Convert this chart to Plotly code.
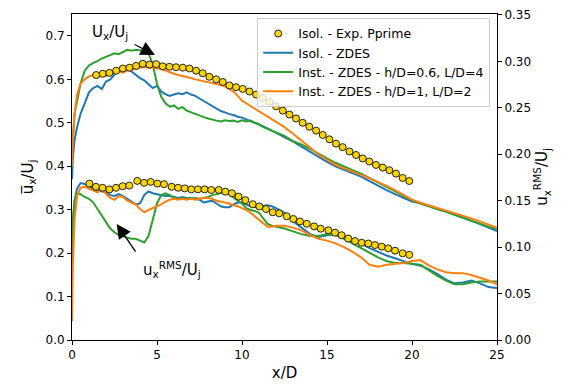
import plotly.graph_objects as go

# ---------------- data ----------------
x_sim = [0, 0.05, 0.15, 0.3, 0.5, 0.75, 1.0, 1.25, 1.5, 1.75, 2.0, 2.25, 2.5, 2.75,
         3.0, 3.25, 3.5, 3.75, 4.0, 4.25, 4.5, 4.75, 5.0, 5.25, 5.5, 5.75, 6.0, 6.25,
         6.5, 6.75, 7.0, 7.25, 7.5, 7.75, 8.0, 8.25, 8.5, 8.75, 9.0, 9.25, 9.5, 9.75,
         10.0, 10.25, 10.5, 10.75, 11.0, 11.25, 11.5, 11.75, 12.0, 12.5, 13, 13.5, 14,
         14.5, 15, 15.5, 16, 16.5, 17, 17.5, 18, 18.5, 19, 19.5, 20, 20.5, 21, 21.5, 22,
         22.5, 23, 23.5, 24, 24.5, 25]

# mean velocity (left axis)
mean_isol = [0.37, 0.42, 0.46, 0.49, 0.52, 0.545, 0.57, 0.58, 0.585, 0.578, 0.595, 0.60,
             0.61, 0.622, 0.62, 0.625, 0.618, 0.61, 0.603, 0.598, 0.59, 0.58, 0.585, 0.572,
             0.566, 0.562, 0.565, 0.568, 0.566, 0.570, 0.565, 0.562, 0.556, 0.55, 0.544,
             0.538, 0.533, 0.527, 0.524, 0.52, 0.518, 0.514, 0.512, 0.508, 0.505, 0.50,
             0.497, 0.492, 0.487, 0.482, 0.478, 0.468, 0.457, 0.445, 0.433, 0.421, 0.41,
             0.40, 0.392, 0.384, 0.376, 0.366, 0.355, 0.345, 0.336, 0.327, 0.319, 0.315,
             0.309, 0.303, 0.296, 0.289, 0.282, 0.275, 0.267, 0.259, 0.251]
mean_h06 = [0.43, 0.47, 0.52, 0.55, 0.59, 0.62, 0.632, 0.638, 0.642, 0.648, 0.652, 0.655,
            0.660, 0.658, 0.664, 0.668, 0.666, 0.668, 0.667, 0.664, 0.66, 0.635, 0.59, 0.56,
            0.545, 0.537, 0.54, 0.532, 0.536, 0.528, 0.524, 0.521, 0.516, 0.513, 0.51, 0.507,
            0.505, 0.503, 0.506, 0.504, 0.505, 0.502, 0.506, 0.503, 0.505, 0.50, 0.497, 0.49,
            0.486, 0.482, 0.478, 0.47, 0.458, 0.45, 0.44, 0.428, 0.418, 0.408, 0.399, 0.391,
            0.383, 0.373, 0.362, 0.352, 0.342, 0.332, 0.322, 0.314, 0.307, 0.301, 0.295,
            0.288, 0.281, 0.274, 0.267, 0.261, 0.255]
mean_h1 = [0.40, 0.46, 0.52, 0.565, 0.59, 0.60, 0.607, 0.61, 0.603, 0.61, 0.608, 0.612,
           0.615, 0.618, 0.616, 0.62, 0.622, 0.625, 0.627, 0.629, 0.626, 0.628, 0.625, 0.624,
           0.62, 0.616, 0.613, 0.61, 0.608, 0.606, 0.603, 0.60, 0.598, 0.596, 0.594, 0.592,
           0.589, 0.587, 0.584, 0.578, 0.572, 0.562, 0.551, 0.545, 0.539, 0.533, 0.527,
           0.521, 0.515, 0.508, 0.502, 0.49, 0.475, 0.458, 0.443, 0.427, 0.414, 0.403, 0.395,
           0.388, 0.38, 0.372, 0.364, 0.355, 0.345, 0.334, 0.323, 0.316, 0.31, 0.305, 0.299,
           0.293, 0.287, 0.28, 0.273, 0.265, 0.258]

# RMS velocity (right axis)
rms_isol = [0.08, 0.12, 0.15, 0.163, 0.169, 0.168, 0.166, 0.162, 0.161, 0.16, 0.159, 0.156,
            0.155, 0.157, 0.155, 0.152, 0.149, 0.146, 0.147, 0.156, 0.16, 0.158, 0.157, 0.156,
            0.155, 0.155, 0.154, 0.153, 0.154, 0.153, 0.153, 0.152, 0.151, 0.148, 0.149,
            0.150, 0.147, 0.144, 0.143, 0.143, 0.146, 0.148, 0.148, 0.146, 0.144, 0.143,
            0.144, 0.1445, 0.145, 0.144, 0.142, 0.137, 0.128, 0.121, 0.114, 0.111, 0.113,
            0.1145, 0.112, 0.108, 0.104, 0.099, 0.095, 0.091, 0.088, 0.085, 0.082, 0.08,
            0.076, 0.071, 0.065, 0.061, 0.062, 0.064, 0.061, 0.057, 0.056]
rms_h06 = [0.10, 0.13, 0.15, 0.158, 0.157, 0.154, 0.152, 0.148, 0.141, 0.134, 0.126, 0.12,
           0.116, 0.113, 0.112, 0.11, 0.109, 0.109, 0.107, 0.105, 0.112, 0.13, 0.147, 0.156,
           0.158, 0.156, 0.153, 0.152, 0.152, 0.153, 0.152, 0.153, 0.152, 0.153, 0.154,
           0.156, 0.157, 0.158, 0.159, 0.157, 0.153, 0.15, 0.147, 0.142, 0.14, 0.139, 0.137,
           0.131, 0.125, 0.123, 0.122, 0.12, 0.117, 0.114, 0.112, 0.112, 0.114, 0.113,
           0.109, 0.104, 0.099, 0.094, 0.089, 0.085, 0.083, 0.083, 0.082, 0.081, 0.075,
           0.069, 0.064, 0.06, 0.06, 0.062, 0.063, 0.063, 0.063]
rms_h1 = [0.02, 0.08, 0.13, 0.155, 0.164, 0.165, 0.163, 0.161, 0.159, 0.162, 0.157, 0.153,
          0.151, 0.155, 0.154, 0.15, 0.148, 0.146, 0.141, 0.1375, 0.14, 0.142, 0.1445, 0.146,
          0.149, 0.151, 0.152, 0.151, 0.152, 0.151, 0.152, 0.151, 0.152, 0.153, 0.153,
          0.152, 0.15, 0.149, 0.148, 0.147, 0.145, 0.144, 0.142, 0.14, 0.137, 0.133, 0.13,
          0.126, 0.122, 0.122, 0.123, 0.123, 0.121, 0.118, 0.113, 0.109, 0.107, 0.104, 0.1,
          0.095, 0.089, 0.081, 0.079, 0.081, 0.082, 0.083, 0.085, 0.086, 0.08, 0.076, 0.073,
          0.072, 0.072, 0.07, 0.067, 0.064, 0.06]

# experiments
x_exp_mean = [1.42, 1.81, 2.20, 2.60, 2.99, 3.38, 3.77, 4.16, 4.56, 4.95, 5.34, 5.73, 6.12,
              6.52, 6.91, 7.30, 7.69, 8.08, 8.48, 8.87, 9.26, 9.65, 10.04, 10.44, 10.83,
              11.22, 11.61, 12.00, 12.40, 12.79, 13.18, 13.57, 13.96, 14.36, 14.75, 15.14,
              15.53, 15.92, 16.32, 16.71, 17.10, 17.49, 17.88, 18.28, 18.67, 19.06, 19.45,
              19.84]
exp_mean = [0.610, 0.613, 0.615, 0.620, 0.625, 0.627, 0.631, 0.636, 0.634, 0.635, 0.630,
            0.629, 0.628, 0.627, 0.625, 0.620, 0.614, 0.606, 0.600, 0.594, 0.586, 0.582,
            0.578, 0.572, 0.565, 0.557, 0.548, 0.538, 0.528, 0.519, 0.510, 0.500, 0.491,
            0.482, 0.472, 0.462, 0.452, 0.444, 0.434, 0.426, 0.418, 0.411, 0.403, 0.397,
            0.391, 0.383, 0.373, 0.366]
x_exp_rms = [1.02, 1.41, 1.80, 2.20, 2.59, 2.98, 3.37, 3.84, 4.24, 4.63, 5.02, 5.41, 5.86,
             6.24, 6.63, 7.02, 7.41, 7.80, 8.19, 8.63, 9.02, 9.41, 9.80, 10.20, 10.63,
             11.02, 11.41, 11.81, 12.19, 12.63, 13.02, 13.41, 13.81, 14.24, 14.63, 15.08,
             15.47, 15.86, 16.25, 16.65, 17.04, 17.43, 17.82, 18.22, 18.60, 19.00, 19.45,
             19.84]
exp_rms = [0.1684, 0.1649, 0.1639, 0.1621, 0.1639, 0.1656, 0.1663, 0.1713, 0.1692, 0.1702,
           0.1684, 0.1678, 0.1650, 0.1639, 0.1632, 0.1622, 0.1622, 0.1622, 0.1615, 0.1615,
           0.1597, 0.1580, 0.1544, 0.1506, 0.1462, 0.1438, 0.1410, 0.1375, 0.1364, 0.1332,
           0.1303, 0.1276, 0.1251, 0.1223, 0.1198, 0.1181, 0.1156, 0.1128, 0.1092, 0.1065,
           0.1047, 0.1039, 0.1022, 0.1005, 0.0987, 0.0962, 0.0934, 0.0917]

names = ["Isol. - Exp. Pprime", "Isol. - ZDES", "Inst. - ZDES - h/D=0.6, L/D=4",
         "Inst. - ZDES - h/D=1, L/D=2"]

BLUE, GREEN, ORANGE = "#1f77b4", "#2ca02c", "#ff7f0e"
FONT = "DejaVu Sans"

fig = go.Figure()

sim = [(mean_isol, rms_isol, BLUE, names[1], 2),
       (mean_h06, rms_h06, GREEN, names[2], 3),
       (mean_h1, rms_h1, ORANGE, names[3], 4)]
for mean, rms, col, nm, rank in sim:
    fig.add_trace(go.Scatter(x=x_sim, y=mean, mode="lines", line=dict(color=col, width=2),
                             name=nm, legendrank=rank, yaxis="y"))
    fig.add_trace(go.Scatter(x=x_sim, y=rms, mode="lines", line=dict(color=col, width=2),
                             name=nm, showlegend=False, yaxis="y2"))

mk = dict(color="#FFD700", size=7, line=dict(color="#222222", width=1))
fig.add_trace(go.Scatter(x=x_exp_mean, y=exp_mean, mode="markers", marker=mk,
                         name=names[0], legendrank=1, yaxis="y"))
fig.add_trace(go.Scatter(x=x_exp_rms, y=exp_rms, mode="markers", marker=mk,
                         name=names[0], showlegend=False, yaxis="y2"))

axfont = dict(family=FONT, size=12, color="black")
fig.update_layout(
    width=569, height=389,
    margin=dict(l=72, r=72, t=8, b=49),
    paper_bgcolor="white", plot_bgcolor="white",
    font=dict(family=FONT, color="black"),
    xaxis=dict(range=[0, 25], tickvals=[0, 5, 10, 15, 20, 25], showgrid=False,
               zeroline=False, showline=True, linecolor="black", linewidth=1, mirror=True,
               ticks="outside", ticklen=4, tickcolor="black", tickfont=axfont,
               title=dict(text="x/D", font=dict(family=FONT, size=15), standoff=6)),
    yaxis=dict(range=[0, 0.7505], tickvals=[0, 0.1, 0.2, 0.3, 0.4, 0.5, 0.6, 0.7],
               tickformat=".1f", showgrid=False, zeroline=False, showline=True,
               linecolor="black", linewidth=1, ticks="outside", ticklen=4,
               tickcolor="black", tickfont=axfont,
               title=dict(text="u\u0305<sub>x</sub>/U<sub>j</sub>",
                          font=dict(family=FONT, size=15), standoff=8)),
    yaxis2=dict(range=[0, 0.351], overlaying="y", side="right",
                tickvals=[0, 0.05, 0.10, 0.15, 0.20, 0.25, 0.30, 0.35], tickformat=".2f",
                showgrid=False, zeroline=False, showline=True, linecolor="black",
                linewidth=1, ticks="outside", ticklen=4, tickcolor="black", tickfont=axfont,
                title=dict(text="u<sub>x</sub><sup>RMS</sup>/U<sub>j</sub>",
                           font=dict(family=FONT, size=15), standoff=6)),
    legend=dict(x=0.984, y=0.988, xanchor="right", yanchor="top",
                bgcolor="rgba(255,255,255,0.8)", bordercolor="#cccccc", borderwidth=1,
                font=dict(family=FONT, size=12.5, color="black"), tracegroupgap=0,
                itemwidth=30),
    showlegend=True,
)

# arrows
fig.add_annotation(x=4.88, y=0.656, ax=3.6, ay=0.682, xref="x", yref="y", axref="x",
                   ayref="y", text="", showarrow=True, arrowhead=2, arrowsize=2.2,
                   arrowwidth=1.3, arrowcolor="black")
fig.add_annotation(x=2.63, y=0.267, ax=3.8, ay=0.2, xref="x", yref="y", axref="x",
                   ayref="y", text="", showarrow=True, arrowhead=2, arrowsize=2.2,
                   arrowwidth=1.3, arrowcolor="black")
fig.add_annotation(x=2.24, y=0.708, xref="x", yref="y", showarrow=False,
                   text="U<sub>x</sub>/U<sub>j</sub>",
                   font=dict(family=FONT, size=15, color="black"))
fig.add_annotation(x=5.9, y=0.163, xref="x", yref="y", showarrow=False,
                   text="u<sub>x</sub><sup>RMS</sup>/U<sub>j</sub>",
                   font=dict(family=FONT, size=15, color="black"))

fig.write_html("out.html")
